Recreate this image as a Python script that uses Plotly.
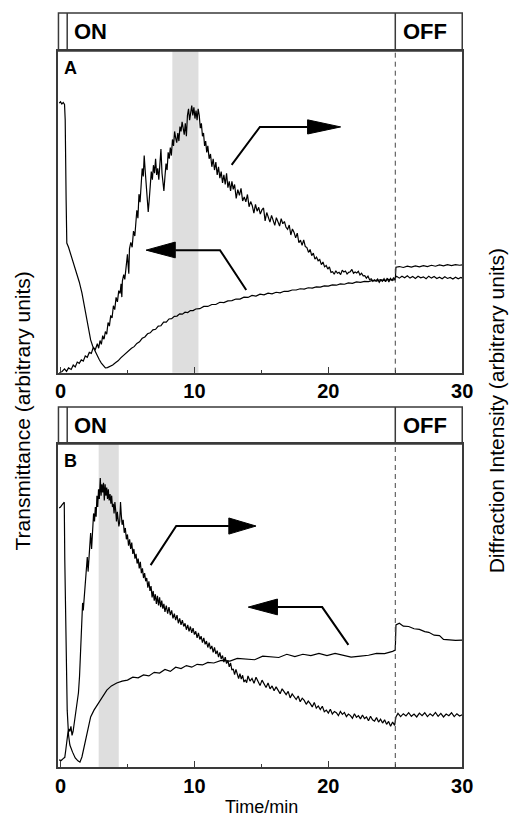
import plotly.graph_objects as go

# ---------------- data (time in min, values in arbitrary units 0-100) ----------------
a_trans = [(-0.1,83.8),(0.0,84.2),(0.1,83.5),(0.2,84.0),(0.3,83.4),(0.35,78.6),(0.42,53.7),(0.47,40.3),
 (0.6,39.0),(0.8,36.3),(1.0,34.0),(1.2,31.3),(1.4,28.2),(1.6,24.8),(1.8,20.5),(2.0,16.4),(2.15,12.8),
 (2.25,10.2),(2.4,8.3),(2.6,6.4),(2.75,5.0),(2.9,4.0),(3.05,3.0),(3.2,2.2),(3.35,1.5),(3.5,1.6),(3.7,1.9),
 (3.9,2.4),(4.1,3.1),(4.3,3.7),(4.5,4.6),(4.7,5.4),(4.9,6.1),(5.1,6.8),(5.3,7.6),(5.5,8.1),(5.7,9.1),
 (5.9,9.6),(6.1,10.7),(6.3,11.1),(6.5,12.1),(6.7,12.4),(6.9,13.3),(7.1,13.5),(7.3,14.5),(7.5,14.6),
 (7.7,15.7),(7.9,15.7),(8.1,16.7),(8.3,16.8),(8.5,17.5),(8.7,17.6),(8.9,18.3),(9.1,18.2),(9.3,18.8),
 (9.5,18.7),(9.7,19.3),(9.9,19.3),(10.1,19.8),(10.4,19.9),(10.7,20.6),(11.0,20.6),(11.3,21.2),(11.6,21.2),
 (11.9,21.9),(12.2,21.8),(12.5,22.3),(12.8,22.4),(13.1,22.9),(13.4,22.9),(13.7,23.5),(14.0,23.4),
 (14.3,24.0),(14.6,23.8),(14.9,24.4),(15.2,24.2),(15.5,24.7),(15.8,24.5),(16.1,25.0),(16.4,24.8),
 (16.7,25.3),(17.0,25.3),(17.3,25.7),(17.6,25.7),(17.9,26.1),(18.2,26.0),(18.5,26.4),(18.8,26.3),
 (19.1,26.7),(19.4,26.6),(19.7,27.0),(20.0,26.9),(20.3,27.3),(20.6,27.2),(20.9,27.6),(21.2,27.5),
 (21.5,27.9),(21.8,27.8),(22.1,28.2),(22.4,28.1),(22.7,28.4),(23.0,28.3),(23.3,28.7),(23.6,28.5),
 (23.9,28.9),(24.2,28.6),(24.5,29.0),(24.8,28.8),(25.0,29.0),(25.05,32.8),(25.3,33.0),(25.6,32.7),
 (25.9,33.1),(26.2,32.8),(26.5,33.2),(26.8,32.9),(27.1,33.3),(27.4,33.0),(27.7,33.4),(28.0,33.1),
 (28.3,33.5),(28.6,33.2),(28.9,33.6),(29.2,33.3),(29.5,33.6),(29.8,33.4),(30.0,33.5)]

a_diff = [(-0.1,0.0),(0.1,0.3),(0.3,1.2),(0.45,0.4),(0.6,1.5),(0.8,1.0),(0.95,2.4),(1.1,1.8),(1.25,3.3),
 (1.4,2.9),(1.55,4.0),(1.7,3.6),(1.85,5.2),(2.0,4.8),(2.15,6.3),(2.3,6.0),(2.45,7.9),(2.6,7.2),(2.75,9.0),
 (2.85,7.6),(2.95,10.0),(3.05,8.8),(3.15,11.5),(3.25,10.4),(3.35,12.8),(3.45,12.0),(3.55,15.6),(3.65,14.5),
 (3.75,17.8),(3.85,17.0),(3.95,20.8),(4.05,19.6),(4.15,23.4),(4.25,22.0),(4.35,25.5),(4.45,24.6),
 (4.52,27.6),(4.58,23.5),(4.62,28.5),(4.72,30.5),(4.8,29.0),(4.9,34.0),(5.0,36.8),(5.05,33.5),(5.1,30.8),
 (5.15,38.5),(5.25,40.5),(5.35,39.0),(5.45,44.0),(5.55,42.5),(5.62,46.0),(5.7,50.5),(5.78,48.0),
 (5.86,55.5),(5.94,53.0),(6.02,60.0),(6.1,63.5),(6.18,61.0),(6.25,67.5),(6.32,63.0),(6.4,58.5),(6.48,55.0),
 (6.55,50.0),(6.62,53.5),(6.7,58.0),(6.78,62.5),(6.86,60.0),(6.94,64.5),(7.02,62.0),(7.1,66.5),(7.18,61.5),
 (7.26,63.5),(7.34,60.0),(7.42,67.0),(7.5,69.5),(7.58,62.0),(7.66,58.0),(7.72,56.5),(7.8,61.0),(7.88,65.0),
 (7.96,63.0),(8.04,68.5),(8.12,66.5),(8.2,70.0),(8.28,67.5),(8.36,72.5),(8.44,70.5),(8.52,75.0),(8.6,73.0),
 (8.68,71.5),(8.76,74.5),(8.84,72.0),(8.92,76.5),(9.0,75.0),(9.08,78.0),(9.16,76.0),(9.24,74.0),(9.32,77.5),
 (9.4,73.5),(9.48,80.0),(9.56,82.0),(9.64,78.5),(9.72,80.5),(9.8,83.0),(9.88,80.0),(9.96,82.5),(10.04,79.0),
 (10.12,81.5),(10.2,78.5),(10.28,82.0),(10.36,80.0),(10.44,76.0),(10.52,77.5),(10.6,73.5),(10.68,74.5),
 (10.76,70.5),(10.84,72.0),(10.92,68.5),(11.0,70.5),(11.1,66.5),(11.2,68.0),(11.3,64.0),(11.4,66.5),
 (11.5,63.0),(11.6,65.5),(11.7,61.5),(11.8,64.0),(11.9,60.5),(12.0,62.5),(12.1,59.0),(12.2,61.5),
 (12.3,58.5),(12.4,62.0),(12.5,57.5),(12.6,59.5),(12.7,56.5),(12.8,59.5),(12.9,57.0),(13.0,58.5),
 (13.12,54.2),(13.24,56.9),(13.36,55.1),(13.48,57.3),(13.6,53.4),(13.72,54.6),(13.84,53.1),(13.96,55.4),
 (14.08,51.6),(14.2,53.2),(14.32,51.9),(14.44,49.6),(14.56,52.3),(14.68,50.2),(14.8,51.4),(14.92,49.3),
 (15.04,50.6),(15.16,51.2),(15.28,47.2),(15.4,49.8),(15.52,48.1),(15.64,46.8),(15.76,48.9),(15.88,47.4),
 (16.0,45.8),(16.12,48.2),(16.24,47.1),(16.36,45.6),(16.48,47.9),(16.6,46.3),(16.72,47.0),(16.84,45.2),
 (16.96,44.6),(17.08,45.9),(17.2,42.8),(17.32,44.7),(17.44,43.6),(17.56,41.9),(17.68,43.4),(17.8,40.4),
 (17.92,41.2),(18.04,39.6),(18.16,41.3),(18.28,39.2),(18.4,38.9),(18.52,37.4),(18.64,38.3),(18.76,36.4),
 (18.88,37.2),(19.0,35.3),(19.12,35.9),(19.24,34.8),(19.36,35.2),(19.48,33.6),(19.6,34.4),(19.72,32.9),
 (19.84,33.3),(19.96,32.2),(20.08,32.9),(20.2,31.2),(20.32,31.4),(20.44,30.6),(20.56,31.7),(20.68,30.9),
 (20.8,31.2),(20.92,30.5),(21.04,31.9),(21.16,31.3),(21.28,31.6),(21.4,30.7),(21.52,31.2),(21.64,31.4),
 (21.76,32.1),(21.88,30.9),(22.0,31.3),(22.12,31.0),(22.24,31.5),(22.36,30.4),(22.48,30.9),(22.6,30.1),
 (22.72,30.2),(22.84,29.4),(22.96,30.0),(23.08,28.9),(23.2,29.2),(23.32,28.4),(23.44,28.9),(23.56,28.6),
 (23.68,29.1),(23.8,28.1),(23.92,28.8),(24.04,28.4),(24.16,29.2),(24.28,28.3),(24.4,29.4),(24.52,28.2),
 (24.64,29.3),(24.76,28.7),(24.88,29.6),(24.98,28.8),(25.02,29.6),(25.1,30.0),(25.3,29.4),(25.5,30.0),
 (25.7,29.5),(25.9,30.1),(26.1,29.4),(26.3,29.9),(26.5,29.3),(26.7,30.0),(26.9,29.5),(27.1,29.8),
 (27.3,29.2),(27.5,30.0),(27.7,29.4),(27.9,29.9),(28.1,29.3),(28.3,29.7),(28.5,29.2),(28.7,29.8),
 (28.9,29.3),(29.1,29.6),(29.3,29.1),(29.5,29.7),(29.7,29.2),(29.9,29.6),(30.0,29.4)]

b_trans = [(-0.1,80.2),(0.0,80.5),(0.1,81.1),(0.2,81.7),(0.28,82.0),(0.32,64.1),(0.4,36.2),(0.5,17.6),
 (0.6,9.9),(0.7,6.8),(0.9,4.6),(1.1,2.8),(1.3,1.9),(1.45,1.5),(1.6,3.1),(1.76,6.2),(1.9,9.0),(2.05,12.1),
 (2.25,15.5),(2.5,17.6),(2.85,19.8),(3.15,22.0),(3.46,23.8),(3.8,25.1),(4.2,26.0),(4.6,26.6),(5.0,26.9),
 (5.4,27.8),(5.8,27.6),(6.2,28.5),(6.6,28.2),(7.0,29.3),(7.4,29.1),(7.8,30.2),(8.2,29.6),(8.6,30.9),
 (9.0,30.5),(9.4,31.4),(9.8,30.9),(10.2,31.8),(10.6,31.6),(11.0,32.4),(11.45,32.2),(12.0,33.0),
 (12.65,32.8),(13.2,33.6),(13.9,33.5),(14.5,33.2),(15.1,34.3),(15.7,34.2),(16.3,33.9),(16.9,34.9),
 (17.5,34.2),(18.1,34.9),(18.7,34.5),(19.3,35.2),(19.9,34.5),(20.5,35.2),(21.1,34.7),(21.7,34.0),
 (22.4,34.3),(23.0,34.6),(23.6,35.2),(24.2,35.1),(24.8,35.8),(25.0,36.2),(25.05,44.0),(25.3,44.5),
 (25.6,43.6),(26.0,43.5),(26.4,42.8),(26.8,42.6),(27.2,41.9),(27.5,41.7),(27.9,40.8),(28.3,40.7),
 (28.6,39.5),(28.9,39.4),(29.5,39.2),(30.0,39.3)]

b_diff = [(-0.1,2.2),(0.05,2.0),(0.2,2.6),(0.32,3.0),(0.4,5.5),(0.47,8.2),(0.55,10.5),(0.62,11.8),(0.7,11.0),
 (0.78,12.6),(0.86,9.8),(0.94,11.0),(1.02,13.5),(1.1,15.5),(1.18,17.5),(1.26,20.5),(1.34,23.0),(1.42,28.0),
 (1.48,33.0),(1.54,38.5),(1.6,45.5),(1.65,50.8),(1.7,48.5),(1.76,52.0),(1.82,53.5),(1.88,57.0),(1.94,62.5),
 (2.0,65.0),(2.06,60.5),(2.12,64.0),(2.18,70.0),(2.25,72.4),(2.32,67.5),(2.4,74.0),(2.47,78.5),(2.54,76.0),
 (2.6,80.5),(2.66,77.5),(2.72,84.0),(2.78,80.5),(2.84,86.0),(2.9,83.0),(2.97,89.5),(3.03,84.0),(3.09,87.5),
 (3.15,85.0),(3.21,88.0),(3.27,82.5),(3.33,87.5),(3.39,84.0),(3.45,86.5),(3.51,83.0),(3.57,86.0),
 (3.63,82.5),(3.7,84.5),(3.76,81.5),(3.82,84.0),(3.88,80.5),(3.94,81.5),(4.0,78.5),(4.06,82.0),(4.12,79.5),
 (4.18,76.0),(4.24,79.0),(4.3,76.5),(4.36,74.5),(4.42,76.0),(4.48,82.0),(4.54,78.0),(4.6,75.0),(4.68,76.5),
 (4.76,72.5),(4.84,74.0),(4.92,70.5),(5.0,72.0),(5.08,68.5),(5.16,70.5),(5.24,67.5),(5.32,69.5),(5.4,66.0),
 (5.48,67.5),(5.56,64.5),(5.64,66.0),(5.72,63.0),(5.8,64.5),(5.88,61.5),(5.96,63.5),(6.04,60.0),(6.12,61.5),
 (6.2,58.5),(6.28,60.0),(6.36,57.5),(6.44,58.5),(6.52,55.5),(6.6,57.5),(6.68,54.5),(6.76,56.0),(6.84,52.5),
 (6.92,54.5),(7.0,51.5),(7.08,53.5),(7.16,50.5),(7.24,53.0),(7.32,50.0),(7.4,52.5),(7.48,49.5),(7.56,51.5),
 (7.64,49.0),(7.72,50.5),(7.8,48.0),(7.9,50.0),(8.0,47.5),(8.1,49.5),(8.2,47.0),(8.3,48.5),(8.4,46.0),
 (8.5,47.5),(8.6,45.5),(8.7,47.0),(8.8,44.5),(8.9,46.0),(9.0,44.0),(9.1,45.5),(9.2,43.5),(9.3,44.5),
 (9.4,42.5),(9.5,44.0),(9.6,42.0),(9.7,43.5),(9.8,41.5),(9.9,43.0),(10.0,41.0),(10.1,42.0),(10.2,40.0),
 (10.3,41.5),(10.4,39.5),(10.5,40.5),(10.6,38.5),(10.7,40.0),(10.8,38.0),(10.9,39.0),(11.0,37.0),
 (11.1,38.5),(11.2,36.5),(11.3,37.5),(11.4,35.5),(11.5,37.0),(11.6,35.0),(11.7,36.0),(11.8,34.0),
 (11.9,35.5),(12.0,33.5),(12.1,34.5),(12.2,32.5),(12.3,34.0),(12.4,32.0),(12.5,33.0),
 (12.6,31.0),(12.7,32.2),(12.8,30.0),(12.9,30.4),(13.0,28.6),(13.1,30.2),(13.2,28.8),(13.3,27.4),
 (13.4,28.9),(13.5,27.2),(13.6,28.4),(13.7,26.3),(13.8,27.0),(13.9,26.1),(14.0,28.2),(14.15,26.6),
 (14.3,27.4),(14.45,25.9),(14.6,27.8),(14.75,26.2),(14.9,25.2),(15.05,26.9),(15.2,25.5),(15.35,24.6),
 (15.5,26.0),(15.65,24.2),(15.8,25.1),(15.95,23.6),(16.1,24.8),(16.25,23.9),(16.4,22.7),(16.55,24.2),
 (16.7,23.1),(16.85,22.4),(17.0,23.4),(17.15,21.4),(17.3,22.6),(17.45,21.8),(17.6,20.9),(17.75,22.0),
 (17.9,20.2),(18.05,21.3),(18.2,20.6),(18.35,19.4),(18.5,20.4),(18.65,19.6),(18.8,18.6),(18.95,20.0),
 (19.1,18.2),(19.25,18.9),(19.4,17.8),(19.55,18.8),(19.7,17.1),(19.85,17.6),(20.0,16.7),(20.15,17.9),
 (20.3,16.4),(20.45,17.2),(20.6,16.8),(20.75,15.9),(20.9,17.2),(21.05,16.3),(21.2,16.9),(21.35,15.6),
 (21.5,16.4),(21.65,15.9),(21.8,15.1),(21.95,16.5),(22.1,15.4),(22.25,15.9),(22.4,14.9),(22.55,16.1),
 (22.7,15.0),(22.85,15.5),(23.0,14.3),(23.15,15.7),(23.3,14.6),(23.45,14.2),(23.6,15.3),(23.75,13.9),
 (23.9,14.8),(24.05,13.6),(24.2,14.6),(24.35,13.2),(24.5,14.1),(24.65,12.6),(24.8,13.9),(24.95,12.9),
 (25.05,15.5),(25.2,16.6),(25.4,15.6),(25.6,16.5),(25.8,15.8),(26.0,16.8),(26.2,15.7),(26.4,16.4),
 (26.6,15.5),(26.8,16.7),(27.0,15.9),(27.2,16.8),(27.4,15.6),(27.6,16.5),(27.8,15.8),(28.0,16.9),
 (28.2,15.7),(28.4,16.6),(28.6,15.5),(28.8,16.4),(29.0,15.9),(29.2,16.8),(29.4,15.6),(29.6,16.5),
 (29.8,15.8),(30.0,16.2)]

tick_vals = [0, 10, 20, 30]
tick_text = ["0", "10", "20", "30"]
on_start, off_start = 0.5, 25.0
band_a = (8.35, 10.3)
band_b = (2.85, 4.35)

# ---------------- figure geometry ----------------
W, H = 518, 819
def py(p):  # pixel row -> paper y
    return (H - p) / H

FONT = "Liberation Sans, Arial, Helvetica, sans-serif"
LINE = "#3a3a3a"

fig = go.Figure()
for data, ax in [(a_trans, "1"), (a_diff, "1"), (b_trans, "2"), (b_diff, "2")]:
    fig.add_trace(go.Scatter(
        x=[p[0] for p in data], y=[p[1] for p in data], mode="lines",
        line=dict(color="black", width=1.2),
        xaxis="x" if ax == "1" else "x2", yaxis="y" if ax == "1" else "y2",
        showlegend=False, hoverinfo="skip"))

xdom = [57 / W, 472 / W]
xcommon = dict(range=[-0.153, 30.0], domain=xdom, showline=True, mirror=True,
               linecolor=LINE, linewidth=1.5, showgrid=False, zeroline=False,
               ticks="inside", ticklen=6, tickwidth=1.2, tickcolor=LINE,
               tickvals=tick_vals, ticktext=tick_text,
               tickfont=dict(family=FONT, size=20, color="black", weight="bold"),
               minor=dict(tickvals=[5, 15, 25], ticks="inside", ticklen=3, tickcolor=LINE, tickwidth=1.2))
ycommon = dict(range=[0, 100], showline=True, mirror=True, linecolor=LINE, linewidth=1.5,
               showgrid=False, zeroline=False, showticklabels=False, ticks="")

fig.update_layout(
    width=W, height=H, margin=dict(l=0, r=0, t=0, b=0),
    paper_bgcolor="white", plot_bgcolor="white",
    xaxis=dict(**xcommon, anchor="y"),
    yaxis=dict(**ycommon, domain=[py(372.7), py(51)], anchor="x"),
    xaxis2=dict(**xcommon, anchor="y2"),
    yaxis2=dict(**ycommon, domain=[py(767), py(444)], anchor="x2"),
)

shapes = []
annotations = []
panels = [("x", "y", band_a, 13, 51, "A"), ("x2", "y2", band_b, 407, 444, "B")]
for xr, yr, band, htop, hbot, lab in panels:
    shapes.append(dict(type="rect", xref=xr, yref=f"{yr} domain", x0=band[0], x1=band[1], y0=0, y1=1,
                       fillcolor="#dedede", line=dict(width=0), layer="below"))
    shapes.append(dict(type="rect", xref=f"{xr} domain", yref="paper", x0=0, x1=1, y0=py(hbot), y1=py(htop),
                       line=dict(color=LINE, width=1.5), fillcolor="rgba(0,0,0,0)"))
    for xv in (on_start, off_start):
        shapes.append(dict(type="line", xref=xr, yref="paper", x0=xv, x1=xv, y0=py(hbot), y1=py(htop),
                           line=dict(color=LINE, width=1.5)))
    shapes.append(dict(type="line", xref=xr, yref=f"{yr} domain", x0=off_start, x1=off_start, y0=0, y1=1,
                       line=dict(color="#444444", width=1, dash="5px,4px")))
    cy = py((htop + hbot) / 2)
    annotations.append(dict(text="<b>ON</b>", xref=xr, yref="paper", x=0.85, y=cy, xanchor="left",
                            yanchor="middle", showarrow=False, font=dict(family=FONT, size=22, color="black")))
    annotations.append(dict(text="<b>OFF</b>", xref=xr, yref="paper", x=25.4, y=cy, xanchor="left",
                            yanchor="middle", showarrow=False, font=dict(family=FONT, size=22, color="black")))
    annotations.append(dict(text=f"<b>{lab}</b>", xref=xr, yref="paper", x=0.1,
                            y=py(hbot + 17), xanchor="left", yanchor="middle", showarrow=False,
                            font=dict(family=FONT, size=18, color="black")))

arrows = [
    ("x", "y", [(12.78, 64.6), (14.89, 76.4), (18.45, 76.4)], (18.45, 78.6, 74.2, 20.92, 76.4)),
    ("x", "y", [(13.87, 25.7), (11.91, 38.1), (8.57, 38.1)], (8.57, 40.6, 35.7, 6.39, 38.1)),
    ("x2", "y2", [(6.73, 62.5), (8.64, 74.6), (12.57, 74.6)], (12.57, 77.1, 72.1, 14.6, 74.6)),
    ("x2", "y2", [(21.5, 37.8), (19.54, 49.5), (16.2, 49.5)], (16.2, 52.0, 47.1, 14.02, 49.5)),
]
for xr, yr, pts, head in arrows:
    path = "M " + " L ".join(f"{x},{y}" for x, y in pts)
    shapes.append(dict(type="path", xref=xr, yref=yr, path=path, line=dict(color="black", width=2)))
    bx, yt, yb, tx, ty = head
    shapes.append(dict(type="path", xref=xr, yref=yr,
                       path=f"M {bx},{yt} L {tx},{ty} L {bx},{yb} Z",
                       fillcolor="black", line=dict(color="black", width=1)))

annotations += [
    dict(text="Time/min", xref="paper", yref="paper", x=265.5 / W, y=py(807), xanchor="center",
         yanchor="middle", showarrow=False, font=dict(family=FONT, size=18, color="black")),
    dict(text="Transmittance (arbitrary units)", xref="paper", yref="paper", x=20 / W, y=py(411),
         xanchor="center", yanchor="middle", textangle=-90, showarrow=False,
         font=dict(family=FONT, size=21, color="black")),
    dict(text="Diffraction Intensity (arbitrary units)", xref="paper", yref="paper", x=507 / W, y=py(411),
         xanchor="center", yanchor="middle", textangle=-90, showarrow=False,
         font=dict(family=FONT, size=21, color="black")),
]

fig.update_layout(shapes=shapes, annotations=annotations)
fig.write_html("out.html")
